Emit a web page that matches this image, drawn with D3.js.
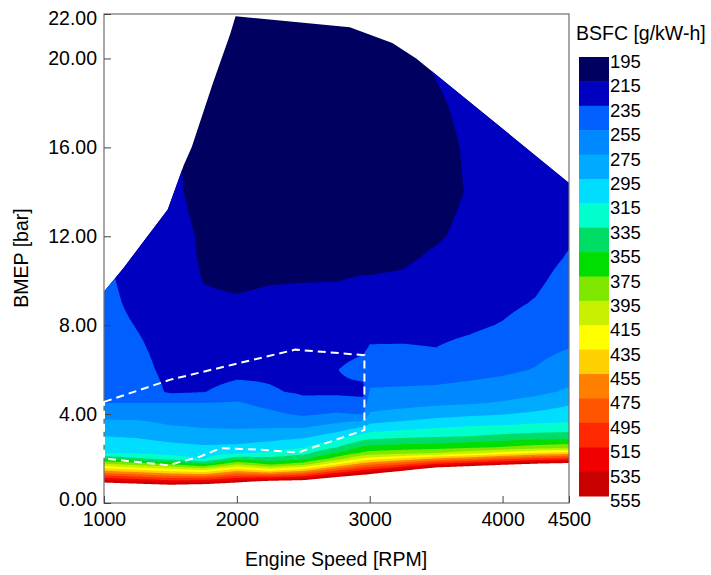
<!DOCTYPE html>
<html>
<head>
<meta charset="utf-8">
<script src="https://cdn.jsdelivr.net/npm/d3@7"></script>
<style>
  body { margin: 0; background: #fff; }
  svg text { font-family: "Liberation Sans", Arial, sans-serif; fill: #000; }
</style>
</head>
<body>
<div id="chart"></div>
<script>
// engine speed columns [RPM] and BMEP rows [bar] of the BSFC map
const speeds = [1000, 1250, 1500, 1750, 2000, 2250, 2500, 2750, 2950, 3000, 3250, 3500, 3750, 4000, 4250, 4500];
const bmeps = [0.5, 0.75, 1.0, 1.25, 1.5, 1.75, 2.0, 2.25, 2.5, 3.0, 3.5, 4.0, 4.5, 5.0, 6, 7, 8, 9, 10, 11, 12, 14, 16, 18, 20, 22];

// BSFC [g/kW-h], one row per BMEP value, one column per speed
const bsfc = [
  [634, 626, 617, 633, 636, 688, 682, 698, 700, 705, 757, 826, 845, 860, 867, 875],
  [587, 578, 569, 577, 588, 622, 622, 644, 653, 658, 704, 764, 782, 798, 806, 813],
  [540, 530, 520, 522, 540, 555, 562, 591, 606, 611, 651, 703, 720, 735, 744, 752],
  [493, 482, 471, 466, 491, 488, 502, 538, 559, 564, 598, 641, 657, 672, 683, 690],
  [446, 434, 422, 411, 443, 422, 443, 485, 512, 517, 544, 580, 595, 610, 621, 629],
  [399, 386, 374, 355, 394, 371, 385, 431, 465, 470, 491, 518, 532, 547, 560, 567],
  [352, 338, 325, 313, 346, 341, 349, 383, 418, 423, 438, 457, 470, 485, 498, 506],
  [314, 312, 309, 305, 311, 319, 329, 357, 378, 382, 388, 395, 407, 422, 437, 444],
  [307, 305, 301, 298, 300, 306, 314, 335, 359, 362, 365, 367, 372, 377, 384, 388],
  [295, 293, 288, 284, 283, 286, 291, 304, 323, 325, 330, 333, 335, 340, 343, 345],
  [282, 281, 275, 272, 271, 271, 270, 279, 289, 298, 303, 309, 313, 315, 318, 319],
  [268, 268, 265, 263, 264, 259, 252, 257, 254, 277, 282, 287, 291, 294, 299, 305],
  [255, 255, 255, 255, 257, 249, 239, 242, 241, 266, 268, 271, 273, 277, 283, 292],
  [253, 248, 232, 234.5, 241, 236.5, 233, 232, 230, 257, 258, 259, 262, 265, 270, 278],
  [250, 242, 229, 228, 230, 232, 230, 234.5, 241, 246, 246, 246, 248, 251, 256, 265],
  [247, 238, 227, 224, 227, 227, 226, 229, 232, 236, 236, 235, 239, 244, 249, 254.5],
  [244, 234, 226, 221, 222, 223, 222, 223, 226, 229, 230, 230, 232, 236, 242.5, 250],
  [242, 229, 225, 218, 217, 219, 219, 219, 221, 223, 223, 226, 228, 231, 236.2, 245.5],
  [240, 226, 224, 214.5, 212, 214, 214.6, 214.8, 216, 216, 217, 222, 224, 228, 232, 241],
  [237, 224, 223, 213, 208, 211, 211, 212, 212, 212, 213, 217.2, 221, 225, 229, 236.4],
  [234, 222, 222, 212.5, 205, 208, 208, 210, 210, 210, 210, 213.5, 218.5, 223, 227, 233],
  [228, 219, 219, 209, 201, 203, 203, 206, 206, 206, 207, 210, 216, 221, 225, 230],
  [224, 216, 218, 208, 199, 200, 200, 203, 204, 204, 206, 210, 217, 222, 226, 230],
  [220, 213, 216, 208, 199, 199, 199, 202, 203, 204, 207, 213, 219, 224, 228, 231],
  [217, 210, 214, 209, 200, 200, 200, 203, 205, 206, 210, 217, 222, 227, 231, 233],
  [215, 208, 212, 211, 202, 202, 202, 205, 207, 208, 213, 220, 225, 230, 234, 235]
];

// contour levels and band colours
const levels = [195, 215, 235, 255, 275, 295, 315, 335, 355, 375, 395, 415, 435, 455, 475, 495, 515, 535, 555];
const bandColors = ["#000060", "#0000c0", "#0060ff", "#0088ff", "#00aaff", "#00ddff", "#00ffcc", "#00dd66",
  "#00dd00", "#80e800", "#c8f000", "#ffff00", "#ffd000", "#ff8000", "#ff5500", "#ff2800", "#f00000", "#c80000"];

// full-load (max BMEP) line
const maxSpeed = [1000, 1150, 1480, 1600, 1660, 1820, 1950, 1990, 2850, 3170, 3350, 4500];
const maxBmep = [9.5, 10.6, 13.2, 15.2, 16.0, 18.9, 21.1, 21.9, 21.4, 20.7, 20.0, 14.4];

// dashed region outline
const dashSpeed = [1000, 1500, 2440, 2960, 2960, 2460, 2170, 1880, 1720, 1480, 1000];
const dashBmep = [4.55, 5.55, 6.9, 6.65, 3.28, 2.27, 2.4, 2.47, 2.08, 1.7, 2.0];

const xTicks = [1000, 2000, 3000, 4000, 4500];
const yTicks = [0, 4, 8, 12, 16, 20, 22];

const width = 711, height = 575;
const x = d3.scaleLinear().domain([1000, 4500]).range([104, 569]);
const y = d3.scaleLinear().domain([0, 22]).range([503, 14]);

const svg = d3.select("#chart").append("svg")
  .attr("width", width)
  .attr("height", height);

// bilinear lookup in the measured grid
function sample(s, b) {
  let i = d3.bisectRight(speeds, s) - 1;
  i = Math.max(0, Math.min(speeds.length - 2, i));
  let j = d3.bisectRight(bmeps, b) - 1;
  j = Math.max(0, Math.min(bmeps.length - 2, j));
  const tx = Math.max(0, Math.min(1, (s - speeds[i]) / (speeds[i + 1] - speeds[i])));
  const ty = Math.max(0, Math.min(1, (b - bmeps[j]) / (bmeps[j + 1] - bmeps[j])));
  const a = bsfc[j][i] * (1 - tx) + bsfc[j][i + 1] * tx;
  const c = bsfc[j + 1][i] * (1 - tx) + bsfc[j + 1][i + 1] * tx;
  return a * (1 - ty) + c * ty;
}

const ds = 10, db = 0.05;
const nx = Math.round(3500 / ds) + 1, ny = Math.round(22 / db) + 1;
const values = new Array(nx * ny);
for (let j = 0; j < ny; j++) {
  for (let i = 0; i < nx; i++) {
    values[i + j * nx] = sample(1000 + i * ds, j * db);
  }
}

const contours = d3.contours().size([nx, ny]).thresholds(levels)(values);

const path = d3.geoPath(d3.geoTransform({
  point: function (gx, gy) {
    this.stream.point(x(1000 + (gx - 0.5) * ds), y((gy - 0.5) * db));
  }
}));

// clip to the operating range under the full-load line
const clipPts = [[1000, 0]].concat(maxSpeed.map((s, k) => [s, maxBmep[k]]), [[4500, 0]]);
svg.append("clipPath").attr("id", "map-clip")
  .append("path")
  .attr("d", d3.line().x(d => x(d[0])).y(d => y(d[1]))(clipPts) + "Z");

const map = svg.append("g").attr("clip-path", "url(#map-clip)");
map.selectAll("path")
  .data(contours)
  .join("path")
  .attr("d", path)
  .attr("fill", (d, k) => k < bandColors.length ? bandColors[k] : "#fff");

// frame + axes
svg.append("rect")
  .attr("x", 104).attr("y", 14)
  .attr("width", 569 - 104).attr("height", 503 - 14)
  .attr("fill", "none").attr("stroke", "#707070").attr("stroke-width", 1.2);

const xAxis = svg.append("g")
  .attr("transform", "translate(0,503)")
  .call(d3.axisBottom(x).tickValues(xTicks).tickFormat(d3.format("d"))
    .tickSizeInner(-7).tickSizeOuter(0).tickPadding(9));
const yAxis = svg.append("g")
  .attr("transform", "translate(104,0)")
  .call(d3.axisLeft(y).tickValues(yTicks).tickFormat(d3.format(".2f"))
    .tickSizeInner(-7).tickSizeOuter(0).tickPadding(7));

[xAxis, yAxis].forEach(g => {
  g.select(".domain").remove();
  g.selectAll(".tick line").attr("stroke", "#444");
  g.selectAll(".tick text").style("font-size", "19.5px").attr("fill", "#000");
});
// nudge the end labels like the original
yAxis.selectAll(".tick text").filter(d => d === 22).attr("dy", "0.55em");
yAxis.selectAll(".tick text").filter(d => d === 0).attr("dy", "0.15em");

// dashed outline drawn over the frame
svg.append("path")
  .attr("d", d3.line().x(d => x(d)).y((d, k) => y(dashBmep[k]))(dashSpeed) + "Z")
  .attr("fill", "none")
  .attr("stroke", "#fff")
  .attr("stroke-width", 2)
  .attr("stroke-dasharray", "8,5");

svg.append("text")
  .attr("x", 336).attr("y", 566)
  .attr("text-anchor", "middle")
  .style("font-size", "19.5px")
  .text("Engine Speed [RPM]");

svg.append("text")
  .attr("transform", "translate(28,258) rotate(-90)")
  .attr("text-anchor", "middle")
  .style("font-size", "19.5px")
  .text("BMEP [bar]");

// colour bar
const cb = d3.scaleLinear().domain([195, 555]).range([57, 496]);
const bar = svg.append("g");
bar.selectAll("rect")
  .data(bandColors)
  .join("rect")
  .attr("x", 579)
  .attr("y", (d, k) => cb(levels[k]))
  .attr("width", 30)
  .attr("height", (d, k) => cb(levels[k + 1]) - cb(levels[k]) + 0.5)
  .attr("fill", d => d);

bar.selectAll("text")
  .data(levels)
  .join("text")
  .attr("x", 610)
  .attr("y", d => cb(d) + 11)
  .style("font-size", "18.5px")
  .text(d => d);

svg.append("text")
  .attr("x", 576).attr("y", 40)
  .style("font-size", "19.5px")
  .text("BSFC [g/kW-h]");
</script>
</body>
</html>
